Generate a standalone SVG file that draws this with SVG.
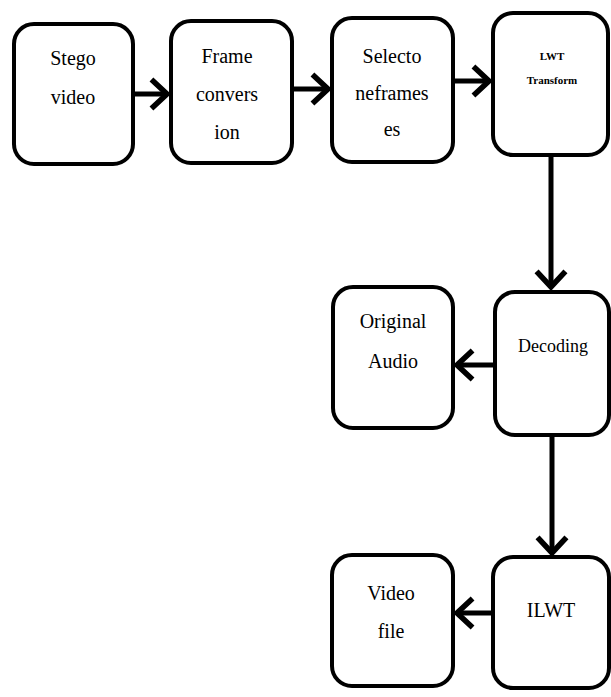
<svg xmlns="http://www.w3.org/2000/svg" width="611" height="697" viewBox="0 0 611 697">
<style>
.box{fill:#fff;stroke:#000;stroke-width:4}
.t{font-family:'Liberation Serif','Times New Roman','DejaVu Serif',serif;font-size:20px;fill:#000;text-anchor:middle}
.s{font-family:'Liberation Serif','Times New Roman','DejaVu Serif',serif;font-size:11px;font-weight:bold;fill:#000;text-anchor:middle}
.c{stroke:#000;stroke-width:5;fill:none}
</style>
<defs>
<marker id="ah" markerUnits="userSpaceOnUse" markerWidth="30" markerHeight="40" viewBox="-20 -18 24 36" refX="0" refY="0" orient="auto">
<path d="M-14,-13 L0,0 L-14,13" fill="none" stroke="#000" stroke-width="5"/>
</marker>
</defs>
<g id="connectors">
<line class="c" x1="133" y1="94" x2="167" y2="94" marker-end="url(#ah)"/>
<line class="c" x1="292" y1="89" x2="328" y2="89" marker-end="url(#ah)"/>
<line class="c" x1="453" y1="81" x2="489" y2="81" marker-end="url(#ah)"/>
<line class="c" x1="551" y1="155" x2="551" y2="287" marker-end="url(#ah)"/>
<line class="c" x1="495" y1="365" x2="457" y2="365" marker-end="url(#ah)"/>
<line class="c" x1="552" y1="435" x2="552" y2="553" marker-end="url(#ah)"/>
<line class="c" x1="493" y1="613" x2="457" y2="613" marker-end="url(#ah)"/>
</g>
<g id="stego">
<rect class="box" x="14" y="24" width="119" height="140" rx="20"/>
<text class="t" x="73" y="65">Stego</text>
<text class="t" x="73" y="104">video</text>
</g>
<g id="frame">
<rect class="box" x="171" y="21" width="121" height="142" rx="20"/>
<text class="t" x="227" y="63">Frame</text>
<text class="t" x="227" y="101">convers</text>
<text class="t" x="227" y="139">ion</text>
</g>
<g id="select">
<rect class="box" x="332" y="18" width="121" height="144" rx="20"/>
<text class="t" x="392" y="63">Selecto</text>
<text class="t" x="392" y="100">neframes</text>
<text class="t" x="392" y="136">es</text>
</g>
<g id="lwt">
<rect class="box" x="493" y="13" width="115" height="142" rx="20"/>
<text class="s" x="552" y="60">LWT</text>
<text class="s" x="552" y="84">Transform</text>
</g>
<g id="decoding">
<rect class="box" x="495" y="292" width="114" height="143" rx="20"/>
<text class="t" x="553" y="352" style="font-size:18px">Decoding</text>
</g>
<g id="audio">
<rect class="box" x="333" y="287" width="120" height="141" rx="20"/>
<text class="t" x="393" y="328">Original</text>
<text class="t" x="393" y="368">Audio</text>
</g>
<g id="ilwt">
<rect class="box" x="493" y="557" width="116" height="131" rx="20"/>
<text class="t" x="551" y="617">ILWT</text>
</g>
<g id="videofile">
<rect class="box" x="332" y="555" width="121" height="131" rx="20"/>
<text class="t" x="391" y="600">Video</text>
<text class="t" x="391" y="638">file</text>
</g>
</svg>
